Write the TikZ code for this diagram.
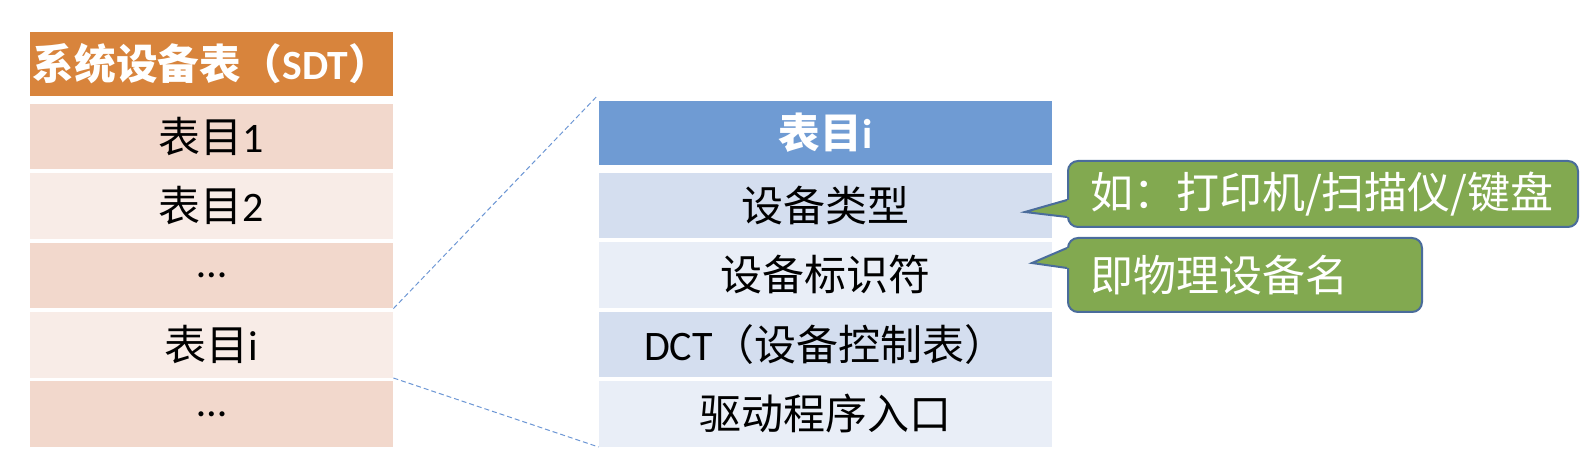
\documentclass[tikz,border=0pt]{standalone}
\usepackage{fontspec}
\setmainfont{Carlito}
\newfontfamily\cjk{Noto Sans CJK SC}
\usetikzlibrary{positioning}
\definecolor{sdthead}{HTML}{D8843C}
\definecolor{sdtdark}{HTML}{F2D8CC}
\definecolor{sdtlight}{HTML}{F8ECE7}
\definecolor{enthead}{HTML}{6F9BD3}
\definecolor{entdark}{HTML}{D4DEEF}
\definecolor{entlight}{HTML}{E9EEF7}
\definecolor{notefill}{HTML}{82A950}
\definecolor{noteline}{HTML}{4A6C9B}
\definecolor{zoomblue}{HTML}{6C96D4}
\tikzset{cell/.style={inner sep=0pt, minimum height=32.8pt,
  font=\cjk\fontsize{21}{24}\selectfont},
  sdtcell/.style={cell, minimum width=181.5pt},
  entcell/.style={cell, minimum width=226.5pt},
  headcell/.style={minimum height=32pt, text=white,
  font=\cjk\bfseries\fontsize{20.8}{24}\selectfont},
  note/.style={draw=noteline, line width=1pt, fill=notefill, rounded
  corners=5pt, text=white, align=left, inner xsep=11pt, inner ysep=0pt,
  font=\cjk\fontsize{21.5}{24}\selectfont},
  notetip/.style={draw=noteline, line width=1pt, line join=miter},
  zoomedge/.style={draw=zoomblue, line width=0.5pt, dash pattern=on 2.5pt off 1.5pt}}

\begin{document}
\begin{tikzpicture}[x=0.5pt, y=-0.5pt]
\useasboundingbox (0,0) rectangle (1596,454);
        \node[sdtcell, headcell, fill=sdthead] (sdt0) at (211.5,64)
          {系统设备表（{\rmfamily SDT}）};
        \node[sdtcell, fill=sdtdark, below=3.5pt of sdt0] (sdt1) {表目{\rmfamily 1}};
        \node[sdtcell, fill=sdtlight, below=1.5pt of sdt1] (sdt2) {表目{\rmfamily 2}};
        \node[sdtcell, fill=sdtdark, below=1.5pt of sdt2] (sdt3) {{\rmfamily …}};
        \node[sdtcell, fill=sdtlight, below=1.5pt of sdt3] (sdt4) {表目{\rmfamily i}};
        \node[sdtcell, fill=sdtdark, below=1.5pt of sdt4] (sdt5) {{\rmfamily …}};

        \node[entcell, headcell, fill=enthead] (ent0) at (825.5,133)
          {表目{\rmfamily i}};
        \node[entcell, fill=entdark, below=3.5pt of ent0] (ent1) {设备类型};
        \node[entcell, fill=entlight, below=1.5pt of ent1] (ent2) {设备标识符};
        \node[entcell, fill=entdark, below=1.5pt of ent2] (ent3)
          {{\rmfamily DCT}（设备控制表）};
        \node[entcell, fill=entlight, below=1.5pt of ent3] (ent4) {驱动程序入口};

        \draw[zoomedge] (sdt3.south east) -- ([shift={(-1pt,2pt)}]ent0.north west);
        \draw[zoomedge] (sdt4.south east) -- (ent4.south west);

        \node[note, text width=233pt, minimum height=33pt] (note1) at (1323,194)
          {如：打印机/扫描仪/键盘};
        \node[note, text width=155pt, minimum height=37pt] (note2) at (1245,275)
          {即物理设备名};
        \coordinate (tip1) at (1025,212);
        \coordinate (tip2) at (1032,263);

        \fill[notefill] ([yshift=-3pt]note1.west) -- (tip1) -- ([yshift=-11.5pt]note1.west)
          -- ([shift={(2pt,-11.5pt)}]note1.west) -- ([shift={(2pt,-3pt)}]note1.west) -- cycle;
        \draw[notetip] ([yshift=-3pt]note1.west) -- (tip1) -- ([yshift=-11.5pt]note1.west);
        \fill[notefill] ([yshift=13.5pt]note2.west) -- (tip2) -- ([yshift=3.5pt]note2.west)
          -- ([shift={(2pt,3.5pt)}]note2.west) -- ([shift={(2pt,13.5pt)}]note2.west) -- cycle;
        \draw[notetip] ([yshift=13.5pt]note2.west) -- (tip2) -- ([yshift=3.5pt]note2.west);
\end{tikzpicture}
\end{document}
